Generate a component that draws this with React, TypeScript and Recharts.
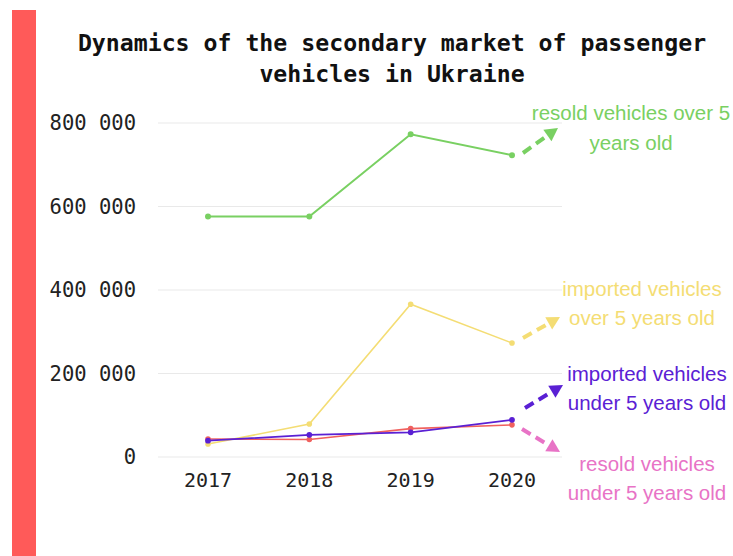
import React from "react";
import { LineChart, Line, XAxis, YAxis, CartesianGrid } from "recharts";

const years = ["2017", "2018", "2019", "2020"];
const resoldOver5 = [576000, 576000, 773000, 723000];
const importedOver5 = [31000, 79000, 366000, 273000];
const importedUnder5 = [39000, 53000, 59000, 89000];
const resoldUnder5 = [43000, 42000, 68000, 77000];
const yTicks = [0, 200000, 400000, 600000, 800000];

const DATA = years.map((year, i) => ({
  year,
  resoldOver5: resoldOver5[i],
  importedOver5: importedOver5[i],
  importedUnder5: importedUnder5[i],
  resoldUnder5: resoldUnder5[i],
}));

const GREEN = "#79d062";
const YELLOW = "#f4dd74";
const PURPLE = "#5a20d4";
const RED = "#f0615e";
const PINK = "#e873c6";

const MONO = "'DejaVu Sans Mono', 'Liberation Mono', monospace";
const SANS = "'Liberation Sans', Arial, sans-serif";

// dashed arrow with a filled head, used for the annotations on the right
const Arrow = ({ x1, y1, x2, y2, color }: { x1: number; y1: number; x2: number; y2: number; color: string }) => {
  const ang = Math.atan2(y2 - y1, x2 - x1);
  const len = 13;
  const half = 7;
  const bx = x2 - len * Math.cos(ang);
  const by = y2 - len * Math.sin(ang);
  const px = -Math.sin(ang) * half;
  const py = Math.cos(ang) * half;
  return (
    <g>
      <line x1={x1} y1={y1} x2={bx} y2={by} stroke={color} strokeWidth={4} strokeDasharray="10 6" />
      <polygon points={`${x2},${y2} ${bx + px},${by + py} ${bx - px},${by - py}`} fill={color} />
    </g>
  );
};

const fmt = (v: number) => (v === 0 ? "0" : `${v / 1000} 000`);

export default function App() {
  return (
    <div style={{ position: "absolute", left: 0, top: 0, width: 733, height: 556, background: "#fff", overflow: "hidden" }}>
      <div style={{ position: "absolute", left: 12, top: 10, width: 24, height: 546, background: "#ff5a59" }} />
      <LineChart
        width={733}
        height={556}
        data={DATA}
        margin={{ top: 123, right: 171, bottom: 69, left: 0 }}
        style={{ position: "absolute", left: 0, top: 0 }}
      >
        <CartesianGrid vertical={false} stroke="#e9e9e9" strokeWidth={1.2} />
        <XAxis
          dataKey="year"
          axisLine={false}
          tickLine={false}
          padding={{ left: 50, right: 50 }}
          tickMargin={10}
          height={30}
          tick={{ fill: "#222", fontSize: 20, fontFamily: MONO }}
        />
        <YAxis
          width={158}
          domain={[0, 800000]}
          ticks={yTicks}
          axisLine={false}
          tickLine={false}
          tickMargin={16}
          tickFormatter={fmt}
          tick={{ fill: "#222", fontSize: 20.5, fontFamily: MONO }}
        />
        <Line dataKey="resoldOver5" stroke={GREEN} strokeWidth={2} dot={{ r: 2, fill: GREEN, stroke: GREEN }} isAnimationActive={false} />
        <Line dataKey="importedOver5" stroke={YELLOW} strokeWidth={1.6} dot={{ r: 2, fill: YELLOW, stroke: YELLOW }} isAnimationActive={false} />
        <Line dataKey="resoldUnder5" stroke={RED} strokeWidth={1.6} dot={{ r: 2, fill: RED, stroke: RED }} isAnimationActive={false} />
        <Line dataKey="importedUnder5" stroke={PURPLE} strokeWidth={1.8} dot={{ r: 2, fill: PURPLE, stroke: PURPLE }} isAnimationActive={false} />
      </LineChart>
      <svg width={733} height={556} style={{ position: "absolute", left: 0, top: 0, pointerEvents: "none" }}>
        <text x={392} y={42} textAnchor="middle" dominantBaseline="central" fontFamily={MONO} fontWeight="bold" fontSize={23.2} fill="#111">
          Dynamics of the secondary market of passenger
        </text>
        <text x={392} y={73} textAnchor="middle" dominantBaseline="central" fontFamily={MONO} fontWeight="bold" fontSize={23.2} fill="#111">
          vehicles in Ukraine
        </text>

        <Arrow x1={523} y1={153} x2={558} y2={128} color={GREEN} />
        <Arrow x1={523} y1={338} x2={560} y2={317} color={YELLOW} />
        <Arrow x1={525} y1={408} x2={563} y2={385} color={PURPLE} />
        <Arrow x1={522} y1={429} x2={560} y2={452} color={PINK} />

        <g fontFamily={SANS} fontSize={20.5} textAnchor="middle" dominantBaseline="central">
          <text x={631} y={112} fill={GREEN}>resold vehicles over 5</text>
          <text x={631} y={142} fill={GREEN}>years old</text>
          <text x={642} y={288} fill={YELLOW}>imported vehicles</text>
          <text x={642} y={317} fill={YELLOW}>over 5 years old</text>
          <text x={647} y={373} fill={PURPLE}>imported vehicles</text>
          <text x={647} y={402} fill={PURPLE}>under 5 years old</text>
          <text x={647} y={463} fill={PINK}>resold vehicles</text>
          <text x={647} y={492} fill={PINK}>under 5 years old</text>
        </g>
      </svg>
    </div>
  );
}
